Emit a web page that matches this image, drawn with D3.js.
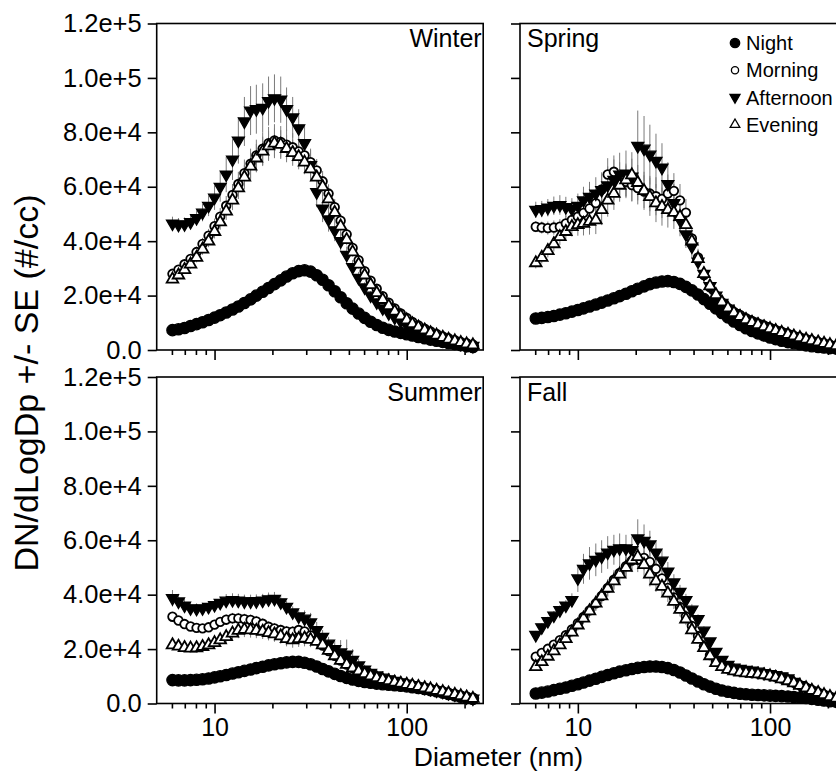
<!DOCTYPE html>
<html><head><meta charset="utf-8">
<script src="https://cdn.jsdelivr.net/npm/d3@7"></script>
<style>
body{margin:0;background:#fff}
svg{display:block}
text{font-family:"Liberation Sans",Arial,Helvetica,sans-serif;fill:#000}
</style>
</head><body>
<svg id="chart" width="836" height="772"></svg>
<script>
// ---------- DATA (values in thousands of #/cc) ----------
const diameters = [6.04, 6.49, 6.98, 7.50, 8.06, 8.66, 9.31, 10.0, 10.7, 11.5,
  12.4, 13.3, 14.3, 15.4, 16.5, 17.8, 19.1, 20.5, 22.1, 23.7,
  25.5, 27.4, 29.4, 31.6, 34.0, 36.5, 39.2, 42.2, 45.3, 48.7,
  52.3, 56.2, 60.4, 64.9, 69.8, 75.0, 80.6, 86.6, 93.1, 100,
  107, 115, 124, 133, 143, 154, 165, 178, 191, 205,
  221];

const seasons = ["Winter", "Spring", "Summer", "Fall"];
const periods = ["Night", "Morning", "Afternoon", "Evening"];
const yTicks = [0, 20000, 40000, 60000, 80000, 100000, 120000];
const xMajorTicks = [10, 100];
const xMinorTicks = [6, 7, 8, 9, 20, 30, 40, 50, 60, 70, 80, 90, 200];

// Winter
const winterNight = [7.3, 7.6, 8.1, 8.8, 9.5, 10.2, 11.0, 11.9, 12.8, 13.8,
  14.9, 16.0, 17.3, 18.6, 20.0, 21.4, 22.8, 24.2, 25.6, 27.0,
  28.2, 29.0, 29.3, 28.8, 27.5, 25.8, 23.8, 21.6, 19.4, 17.2,
  15.2, 13.4, 11.8, 10.4, 9.2, 8.2, 7.4, 6.8, 6.3, 5.8,
  5.3, 4.8, 4.3, 3.8, 3.4, 3.0, 2.6, 2.2, 1.8, 1.4,
  1.1];
const winterMorning = [28.0, 29.5, 31.5, 33.5, 36.0, 39.0, 42.0, 45.5, 49.0, 53.0,
  57.0, 61.0, 65.0, 68.5, 71.5, 74.0, 76.0, 77.0, 76.5, 75.5,
  74.5, 73.0, 71.5, 69.0, 66.0, 62.0, 57.5, 52.5, 47.5, 42.5,
  37.5, 33.0, 29.0, 25.5, 22.5, 19.8, 17.4, 15.3, 13.4, 11.8,
  10.3, 9.0, 7.8, 6.8, 5.9, 5.0, 4.3, 3.6, 3.0, 2.5,
  2.0];
const winterAfternoon = [46.5, 46.0, 46.2, 47.0, 48.5, 50.5, 53.0, 56.0, 60.0, 64.5,
  70.0, 77.0, 84.0, 88.0, 88.5, 89.0, 91.5, 92.5, 92.0, 88.5,
  85.5, 81.5, 76.0, 68.0, 58.0, 52.0, 48.0, 44.0, 40.0, 35.0,
  30.5, 26.5, 23.0, 20.0, 17.5, 15.3, 13.5, 11.9, 10.5, 9.2,
  8.0, 7.0, 6.1, 5.3, 4.6, 3.9, 3.3, 2.8, 2.3, 1.9,
  1.5];
const winterEvening = [26.0, 27.5, 29.5, 31.5, 34.0, 37.0, 40.0, 43.5, 47.0, 51.0,
  55.0, 59.5, 63.5, 67.5, 70.5, 73.0, 75.0, 76.0, 75.5, 74.0,
  72.5, 71.0, 69.0, 66.5, 63.5, 60.0, 55.5, 50.5, 45.5, 40.5,
  36.0, 31.5, 27.5, 24.0, 21.0, 18.5, 16.2, 14.2, 12.5, 11.0,
  9.6, 8.4, 7.3, 6.3, 5.4, 4.6, 3.9, 3.3, 2.7, 2.2,
  1.8];
const winterMorningSE = [1.5, 1.6, 1.7, 1.8, 2.0, 2.2, 2.5, 2.8, 3.2, 3.6,
  4.0, 4.5, 5.0, 5.5, 5.8, 6.0, 6.0, 6.0, 5.8, 5.5,
  5.2, 5.0, 4.8, 4.5, 4.2, 3.8, 3.4, 3.0, 2.6, 2.2,
  1.9, 1.6, 1.4, 1.2, 1.0, 0.9, 0.8, 0.7, 0.6, 0.5,
  0.5, 0.4, 0.4, 0.3, 0.3, 0.3, 0.2, 0.2, 0.2, 0.2,
  0.1];
const winterAfternoonSE = [2.5, 2.5, 2.5, 2.6, 2.8, 3.2, 3.8, 4.5, 5.5, 6.5,
  7.5, 8.5, 9.0, 9.0, 9.0, 9.0, 9.0, 8.8, 8.5, 8.0,
  7.5, 7.0, 6.5, 6.0, 5.5, 5.0, 4.5, 4.0, 3.5, 3.0,
  2.6, 2.2, 1.9, 1.6, 1.4, 1.2, 1.0, 0.9, 0.8, 0.7,
  0.6, 0.5, 0.5, 0.4, 0.4, 0.3, 0.3, 0.3, 0.2, 0.2,
  0.2];
const winterEveningSE = [1.3, 1.4, 1.5, 1.6, 1.8, 2.0, 2.2, 2.5, 2.8, 3.2,
  3.6, 4.0, 4.5, 5.0, 5.2, 5.4, 5.5, 5.5, 5.3, 5.0,
  4.8, 4.6, 4.4, 4.1, 3.8, 3.4, 3.0, 2.7, 2.4, 2.0,
  1.7, 1.5, 1.3, 1.1, 0.9, 0.8, 0.7, 0.6, 0.5, 0.5,
  0.4, 0.4, 0.3, 0.3, 0.3, 0.2, 0.2, 0.2, 0.2, 0.1,
  0.1];

// Spring
const springNight = [11.6, 11.8, 12.1, 12.5, 13.0, 13.5, 14.1, 14.7, 15.3, 16.0,
  16.7, 17.4, 18.2, 19.0, 19.8, 20.7, 21.6, 22.5, 23.4, 24.2,
  24.8, 25.2, 25.3, 25.0, 24.3, 23.2, 21.9, 20.4, 18.7, 17.0,
  15.3, 13.6, 12.0, 10.5, 9.2, 8.0, 7.0, 6.1, 5.3, 4.6,
  4.0, 3.4, 2.9, 2.5, 2.1, 1.7, 1.4, 1.1, 0.9, 0.7,
  0.5];
const springMorning = [45.3, 45.0, 44.8, 45.0, 45.3, 46.5, 47.8, 49.0, 50.4, 52.0,
  54.0, 59.0, 64.5, 65.5, 63.0, 61.8, 60.6, 59.5, 58.2, 57.5,
  56.5, 55.5, 57.5, 58.5, 55.0, 50.5, 41.0, 34.0, 27.5, 23.0,
  20.0, 17.5, 15.5, 14.0, 12.9, 11.7, 10.7, 9.8, 9.0, 8.2,
  7.4, 6.7, 6.0, 5.3, 4.7, 4.1, 3.5, 3.0, 2.5, 2.0,
  1.6];
const springAfternoon = [51.5, 51.8, 52.3, 53.0, 53.3, 52.5, 51.8, 53.0, 55.0, 56.3,
  57.5, 58.8, 60.5, 62.5, 64.5, 64.8, 63.7, 75.0, 74.0, 71.8,
  69.5, 67.0, 61.0, 54.0, 47.8, 42.5, 38.0, 32.5, 28.0, 23.5,
  20.0, 17.3, 15.2, 13.6, 12.3, 11.3, 10.4, 9.6, 8.8, 8.0,
  7.2, 6.5, 5.8, 5.1, 4.5, 3.9, 3.3, 2.8, 2.3, 1.8,
  1.4];
const springEvening = [32.0, 34.0, 36.5, 39.0, 41.6, 43.5, 45.3, 46.0, 46.5, 47.2,
  47.8, 51.5, 55.0, 57.5, 60.5, 62.5, 64.3, 61.5, 58.5, 56.3,
  54.0, 52.7, 51.5, 50.5, 49.0, 46.0, 40.0, 33.5, 28.0, 23.5,
  20.3, 17.6, 15.4, 13.7, 12.3, 11.1, 10.1, 9.3, 8.5, 7.8,
  7.1, 6.4, 5.7, 5.1, 4.5, 3.9, 3.4, 2.9, 2.4, 1.9,
  1.5];
const springMorningSE = [2.0, 2.2, 2.4, 2.6, 2.8, 3.0, 3.3, 3.6, 4.0, 4.5,
  5.0, 5.5, 6.0, 6.0, 6.0, 6.0, 6.0, 6.0, 6.0, 6.5,
  7.0, 7.0, 7.0, 6.5, 6.0, 5.0, 4.0, 3.2, 2.6, 2.1,
  1.7, 1.4, 1.2, 1.0, 0.9, 0.8, 0.7, 0.6, 0.5, 0.5,
  0.4, 0.4, 0.3, 0.3, 0.3, 0.2, 0.2, 0.2, 0.2, 0.1,
  0.1];
const springAfternoonSE = [3.0, 3.0, 3.2, 3.4, 3.6, 3.8, 4.0, 4.5, 5.0, 5.5,
  6.0, 6.5, 7.0, 7.5, 8.0, 8.5, 9.0, 13.0, 12.0, 11.0,
  10.0, 9.0, 8.0, 7.0, 6.0, 5.0, 4.0, 3.3, 2.7, 2.2,
  1.8, 1.5, 1.3, 1.1, 1.0, 0.9, 0.8, 0.7, 0.6, 0.6,
  0.5, 0.5, 0.4, 0.4, 0.3, 0.3, 0.3, 0.2, 0.2, 0.2,
  0.2];
const springEveningSE = [2.0, 2.2, 2.5, 2.8, 3.0, 3.3, 3.6, 4.0, 4.4, 4.8,
  5.2, 5.6, 6.0, 6.0, 6.0, 6.0, 6.0, 6.5, 7.0, 7.0,
  7.0, 7.0, 6.5, 6.0, 5.5, 4.8, 4.0, 3.2, 2.6, 2.1,
  1.7, 1.4, 1.2, 1.0, 0.9, 0.8, 0.7, 0.6, 0.5, 0.5,
  0.4, 0.4, 0.3, 0.3, 0.3, 0.2, 0.2, 0.2, 0.2, 0.1,
  0.1];

// Summer
const summerNight = [8.6, 8.5, 8.5, 8.6, 8.7, 8.9, 9.2, 9.6, 10.0, 10.5,
  11.0, 11.5, 12.0, 12.5, 13.0, 13.5, 14.0, 14.4, 14.8, 15.1,
  15.3, 15.3, 15.0, 14.4, 13.6, 12.7, 11.8, 10.9, 10.1, 9.4,
  8.8, 8.3, 7.9, 7.6, 7.3, 7.1, 6.9, 6.7, 6.5, 6.3,
  6.0, 5.7, 5.3, 4.9, 4.5, 4.0, 3.5, 3.0, 2.5, 2.1,
  1.7];
const summerMorning = [31.9, 30.5, 29.2, 28.3, 27.8, 27.6, 28.0, 29.0, 30.0, 30.8,
  31.3, 31.3, 31.0, 30.7, 30.2, 29.3, 28.2, 27.6, 27.0, 26.5,
  26.4, 27.0, 26.5, 25.0, 23.3, 21.3, 19.3, 17.5, 15.8, 14.3,
  13.0, 11.9, 11.0, 10.2, 9.5, 8.9, 8.4, 7.9, 7.5, 7.1,
  6.7, 6.3, 5.8, 5.4, 4.9, 4.4, 3.9, 3.4, 2.9, 2.4,
  1.9];
const summerAfternoon = [38.7, 37.5, 36.0, 35.0, 34.8, 35.0, 35.5, 36.2, 37.0, 37.8,
  38.0, 37.8, 37.5, 37.5, 37.6, 37.8, 38.3, 38.5, 37.2, 35.5,
  33.5, 32.0, 31.2, 29.8, 27.0, 24.5, 22.0, 20.0, 18.8, 18.0,
  16.0, 14.0, 12.5, 11.3, 10.3, 9.5, 8.9, 8.3, 7.8, 7.3,
  6.8, 6.3, 5.8, 5.3, 4.8, 4.3, 3.8, 3.3, 2.8, 2.3,
  1.8];
const summerEvening = [21.5, 21.0, 20.5, 20.3, 20.4, 20.9, 21.5, 22.3, 23.3, 24.5,
  25.8, 26.8, 27.2, 27.0, 26.8, 26.5, 26.0, 25.5, 24.8, 23.8,
  23.3, 23.8, 24.0, 23.5, 22.8, 21.5, 19.5, 17.5, 15.8, 14.3,
  13.0, 11.9, 10.9, 10.1, 9.4, 8.8, 8.3, 7.8, 7.4, 7.0,
  6.6, 6.2, 5.7, 5.3, 4.8, 4.3, 3.8, 3.3, 2.8, 2.3,
  1.8];
const summerMorningSE = [1.5, 1.5, 1.5, 1.5, 1.5, 1.5, 1.6, 1.7, 1.8, 1.9,
  2.0, 2.0, 2.0, 2.0, 2.0, 2.0, 2.0, 2.0, 2.0, 2.0,
  2.0, 2.0, 2.0, 1.8, 1.6, 1.4, 1.2, 1.0, 0.9, 0.8,
  0.7, 0.6, 0.5, 0.5, 0.4, 0.4, 0.3, 0.3, 0.3, 0.3,
  0.2, 0.2, 0.2, 0.2, 0.2, 0.2, 0.1, 0.1, 0.1, 0.1,
  0.1];
const summerAfternoonSE = [3.0, 2.8, 2.5, 2.2, 2.0, 2.0, 2.0, 2.0, 2.2, 2.4,
  2.5, 2.5, 2.5, 2.5, 2.5, 2.5, 2.5, 2.5, 2.3, 2.2,
  2.2, 2.4, 3.0, 3.5, 3.0, 2.5, 2.5, 3.0, 4.5, 5.5,
  4.0, 2.5, 1.8, 1.4, 1.2, 1.0, 0.9, 0.8, 0.7, 0.6,
  0.5, 0.5, 0.4, 0.4, 0.3, 0.3, 0.3, 0.2, 0.2, 0.2,
  0.2];
const summerEveningSE = [1.5, 1.5, 1.5, 1.5, 1.6, 1.7, 1.8, 2.0, 2.2, 2.4,
  2.6, 2.8, 2.8, 2.8, 2.8, 2.8, 2.8, 2.8, 2.8, 2.8,
  2.8, 3.0, 3.0, 2.8, 2.5, 2.0, 1.6, 1.3, 1.1, 0.9,
  0.8, 0.7, 0.6, 0.5, 0.4, 0.4, 0.3, 0.3, 0.3, 0.3,
  0.2, 0.2, 0.2, 0.2, 0.2, 0.2, 0.1, 0.1, 0.1, 0.1,
  0.1];

// Fall
const fallNight = [3.7, 4.0, 4.4, 4.9, 5.4, 5.9, 6.5, 7.1, 7.7, 8.4,
  9.1, 9.8, 10.5, 11.1, 11.7, 12.2, 12.7, 13.1, 13.4, 13.6,
  13.6, 13.4, 13.0, 12.3, 11.4, 10.3, 9.2, 8.1, 7.1, 6.2,
  5.4, 4.8, 4.3, 3.9, 3.6, 3.4, 3.2, 3.1, 3.0, 2.9,
  2.8, 2.7, 2.6, 2.4, 2.2, 2.0, 1.7, 1.4, 1.1, 0.8,
  0.6];
const fallMorning = [17.2, 18.6, 20.1, 21.6, 23.3, 25.1, 27.2, 29.5, 31.8, 34.2,
  36.8, 39.5, 42.5, 45.5, 48.0, 50.5, 52.5, 52.8, 53.5, 52.0,
  49.5, 46.0, 42.5, 39.0, 35.5, 32.0, 28.5, 24.8, 21.0, 17.8,
  15.3, 13.8, 12.8, 12.2, 11.8, 11.5, 11.2, 11.0, 10.7, 10.3,
  9.8, 9.2, 8.5, 7.7, 6.8, 5.9, 5.0, 4.1, 3.3, 2.6,
  2.0];
const fallAfternoon = [25.2, 28.0, 30.3, 32.3, 34.3, 36.0, 38.0, 46.0, 49.5, 51.5,
  52.8, 54.0, 55.5, 56.5, 57.0, 57.0, 56.4, 60.7, 59.8, 58.5,
  55.5, 52.5, 48.5, 44.5, 41.0, 38.0, 34.5, 31.0, 26.8, 22.8,
  19.0, 16.0, 14.2, 13.2, 12.7, 12.4, 12.1, 11.7, 11.2, 10.8,
  10.4, 10.0, 9.2, 8.0, 6.8, 5.7, 4.7, 3.8, 3.0, 2.4,
  1.8];
const fallEvening = [13.5, 15.3, 17.3, 19.3, 21.5, 23.8, 26.2, 28.8, 31.3, 34.0,
  36.8, 39.5, 42.3, 45.0, 47.5, 50.0, 52.7, 53.9, 51.0, 47.5,
  45.0, 43.0, 40.5, 37.5, 34.5, 31.0, 27.0, 23.5, 20.5, 17.5,
  15.0, 13.5, 12.5, 11.9, 11.5, 11.2, 11.0, 10.8, 10.5, 10.1,
  9.6, 9.0, 8.3, 7.5, 6.6, 5.7, 4.8, 4.0, 3.2, 2.5,
  1.9];
const fallMorningSE = [1.0, 1.1, 1.2, 1.3, 1.5, 1.7, 1.9, 2.1, 2.3, 2.5,
  2.7, 3.0, 3.2, 3.5, 3.8, 4.0, 4.2, 4.5, 4.5, 4.2,
  4.0, 3.6, 3.2, 2.8, 2.5, 2.2, 1.9, 1.6, 1.4, 1.2,
  1.0, 0.9, 0.8, 0.7, 0.7, 0.6, 0.6, 0.5, 0.5, 0.5,
  0.4, 0.4, 0.4, 0.3, 0.3, 0.3, 0.2, 0.2, 0.2, 0.2,
  0.1];
const fallAfternoonSE = [1.5, 1.5, 1.6, 1.7, 1.8, 2.0, 2.5, 5.0, 5.5, 6.0,
  6.0, 6.0, 6.0, 5.5, 5.5, 5.0, 5.0, 7.0, 6.0, 5.0,
  4.5, 4.0, 3.5, 3.0, 2.6, 2.3, 2.0, 1.8, 1.6, 1.4,
  1.2, 1.0, 0.9, 0.8, 0.8, 0.7, 0.7, 0.6, 0.6, 0.6,
  0.5, 0.5, 0.5, 0.4, 0.4, 0.3, 0.3, 0.3, 0.2, 0.2,
  0.2];
const fallEveningSE = [1.0, 1.1, 1.2, 1.3, 1.4, 1.6, 1.8, 2.0, 2.2, 2.4,
  2.6, 2.8, 3.0, 3.3, 3.6, 3.8, 4.0, 4.2, 5.0, 4.5,
  4.0, 3.6, 3.2, 2.8, 2.5, 2.2, 1.9, 1.6, 1.4, 1.2,
  1.0, 0.9, 0.8, 0.7, 0.7, 0.6, 0.6, 0.5, 0.5, 0.5,
  0.4, 0.4, 0.4, 0.3, 0.3, 0.3, 0.2, 0.2, 0.2, 0.2,
  0.1];

const UNIT = 1000; // arrays above are in thousands of #/cc

const seasonSeries = {
  Winter: {Night: [winterNight, null], Morning: [winterMorning, winterMorningSE],
           Afternoon: [winterAfternoon, winterAfternoonSE], Evening: [winterEvening, winterEveningSE]},
  Spring: {Night: [springNight, null], Morning: [springMorning, springMorningSE],
           Afternoon: [springAfternoon, springAfternoonSE], Evening: [springEvening, springEveningSE]},
  Summer: {Night: [summerNight, null], Morning: [summerMorning, summerMorningSE],
           Afternoon: [summerAfternoon, summerAfternoonSE], Evening: [summerEvening, summerEveningSE]},
  Fall:   {Night: [fallNight, null], Morning: [fallMorning, fallMorningSE],
           Afternoon: [fallAfternoon, fallAfternoonSE], Evening: [fallEvening, fallEveningSE]}
};

// ---------- LAYOUT ----------
const svg = d3.select("#chart");
const PW = 326.5, PH = 326.5;
const layout = {
  Winter: {x0: 156.7, y0: 23.5, col: 0, row: 0},
  Spring: {x0: 520,   y0: 23.5, col: 1, row: 0},
  Summer: {x0: 156.7, y0: 377,  col: 0, row: 1},
  Fall:   {x0: 520,   y0: 377,  col: 1, row: 1}
};
const Y_TICK_FONT = 25.5;
const X_TICK_FONT = 25;

const markerStyle = {
  Night:     {type: d3.symbolCircle,   size: 100, rot: 0,   fill: "#000", stroke: "#000", sw: 1.3},
  Morning:   {type: d3.symbolCircle,   size: 58,  rot: 0,   fill: "#fff", stroke: "#000", sw: 1.8},
  Afternoon: {type: d3.symbolTriangle, size: 62,  rot: 180, fill: "#000", stroke: "#000", sw: 1.3},
  Evening:   {type: d3.symbolTriangle, size: 58,  rot: 0,   fill: "#fff", stroke: "#000", sw: 1.8}
};

const yFmt = v => v === 0 ? "0.0" : d3.format(".1e")(v);

seasons.forEach(season => {
  const L = layout[season];
  const x = d3.scaleLog().domain([5, 250]).range([L.x0, L.x0 + PW]);
  const y = d3.scaleLinear().domain([0, 120000]).range([L.y0 + PH, L.y0]);
  const g = svg.append("g");

  // error bars (behind markers)
  const eg = g.append("g");
  periods.forEach(p => {
    const [vals, se] = seasonSeries[season][p];
    if (!se) return;
    eg.selectAll(null).data(diameters).enter().append("line")
      .attr("x1", (d) => x(d)).attr("x2", (d) => x(d))
      .attr("y1", (d, i) => y((vals[i] + se[i]) * UNIT))
      .attr("y2", (d, i) => y(Math.max(0, vals[i] - se[i]) * UNIT))
      .attr("stroke", "#7a7a7a").attr("stroke-width", 1);
  });

  // markers
  periods.forEach(p => {
    const [vals] = seasonSeries[season][p];
    const st = markerStyle[p];
    const sym = d3.symbol().type(st.type).size(st.size);
    g.append("g").selectAll(null).data(diameters).enter().append("path")
      .attr("d", sym)
      .attr("transform", (d, i) => `translate(${x(d)},${y(vals[i] * UNIT)}) rotate(${st.rot})`)
      .attr("fill", st.fill).attr("stroke", st.stroke).attr("stroke-width", st.sw);
  });

  // frame
  g.append("rect").attr("x", L.x0).attr("y", L.y0).attr("width", PW).attr("height", PH)
    .attr("fill", "none").attr("stroke", "#000").attr("stroke-width", 1.6);

  // y axis
  const ya = g.append("g").attr("transform", `translate(${L.x0},0)`)
    .call(d3.axisLeft(y).tickValues(yTicks).tickSize(9).tickPadding(6)
      .tickFormat(L.col === 0 ? yFmt : () => ""));
  ya.select(".domain").remove();
  ya.selectAll("line").attr("stroke-width", 1.6);
  ya.selectAll("text").style("font-size", Y_TICK_FONT + "px").style("font-family", '"Liberation Sans", Arial, sans-serif');

  // x axis major
  const xa = g.append("g").attr("transform", `translate(0,${L.y0 + PH})`)
    .call(d3.axisBottom(x).tickValues(xMajorTicks).tickSize(10).tickPadding(5)
      .tickFormat(L.row === 1 ? d3.format("d") : () => ""));
  xa.select(".domain").remove();
  xa.selectAll("line").attr("stroke-width", 1.6);
  xa.selectAll("text").style("font-size", X_TICK_FONT + "px").style("font-family", '"Liberation Sans", Arial, sans-serif');
  // x axis minor
  const xm = g.append("g").attr("transform", `translate(0,${L.y0 + PH})`)
    .call(d3.axisBottom(x).tickValues(xMinorTicks).tickSize(5).tickFormat(() => ""));
  xm.select(".domain").remove();
  xm.selectAll("line").attr("stroke-width", 1.6);

  // season label
  const right = L.col === 0;
  g.append("text")
    .attr("x", right ? L.x0 + PW - 1.5 : L.x0 + 7)
    .attr("y", L.y0 + 23.5)
    .attr("text-anchor", right ? "end" : "start")
    .style("font-size", "25px")
    .text(season);
});

// legend (in Spring panel)
const legend = svg.append("g");
periods.forEach((p, i) => {
  const st = markerStyle[p];
  const cy = 43 + i * 27.2;
  legend.append("path")
    .attr("d", d3.symbol().type(st.type).size(st.size * 0.7)())
    .attr("transform", `translate(735,${cy}) rotate(${st.rot})`)
    .attr("fill", st.fill).attr("stroke", "#000").attr("stroke-width", 1.3);
  legend.append("text").attr("x", 746).attr("y", cy + 7.2)
    .style("font-size", "20px").text(p);
});

// axis titles
svg.append("text").attr("transform", "translate(26,383) rotate(-90)")
  .attr("text-anchor", "middle").attr("dominant-baseline", "central")
  .style("font-size", "34px").text("DN/dLogDp +/- SE (#/cc)");
svg.append("text").attr("x", 498.5).attr("y", 765.5)
  .attr("text-anchor", "middle").style("font-size", "26.5px").text("Diameter (nm)");
</script>
</body></html>
